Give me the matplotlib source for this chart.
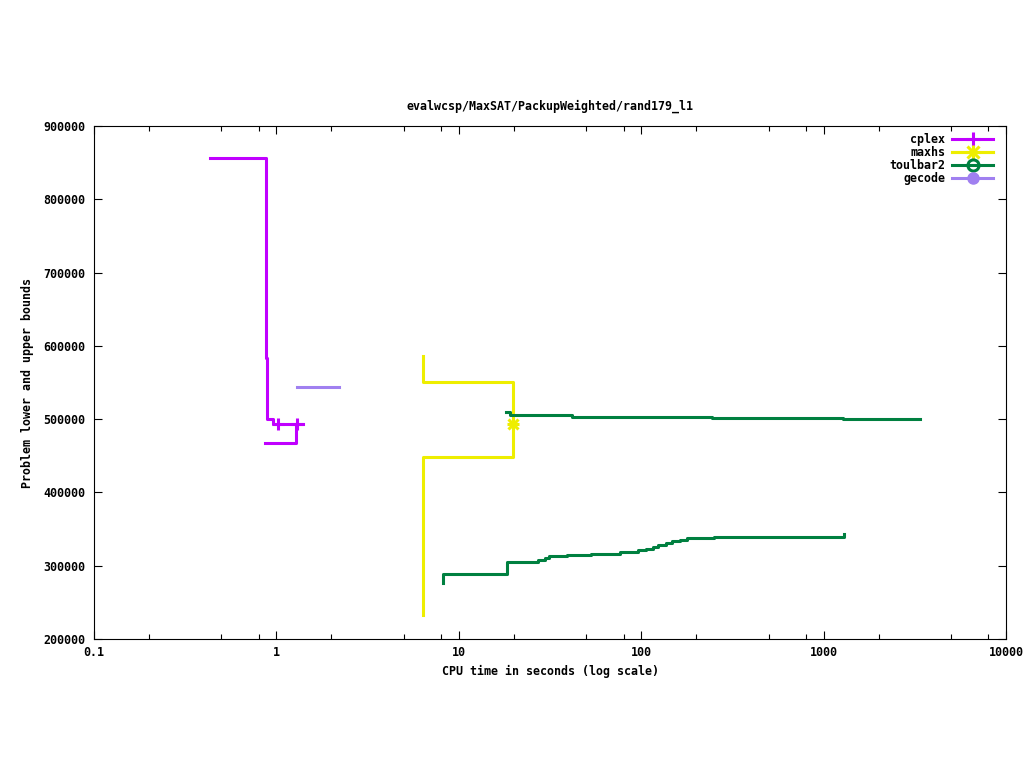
import matplotlib
matplotlib.use("Agg")
import matplotlib.pyplot as plt
from matplotlib.ticker import LogLocator, FixedLocator, NullFormatter, FuncFormatter
from matplotlib.lines import Line2D

# ---- data ----
cplex_ub_x = [0.433, 0.880, 0.891, 0.962, 1.404]
cplex_ub_y = [856000, 583400, 500200, 493000, 493000]
cplex_lb_x = [0.866, 1.281]
cplex_lb_y = [467000, 493000]
cplex_mark_x = [1.02, 1.29]
cplex_mark_y = [493000, 493000]

maxhs_ub_x = [6.38, 6.38, 19.9]
maxhs_ub_y = [586200, 551100, 493000]
maxhs_lb_x = [6.38, 6.38, 19.9]
maxhs_lb_y = [232800, 447900, 493000]
maxhs_mark_x = [19.9]
maxhs_mark_y = [493000]

toulbar2_ub_x = [18.15, 19.09, 41.9, 44.9, 243.5, 1273, 3377]
toulbar2_ub_y = [509300, 505700, 503300, 502300, 501200, 499800, 499800]
toulbar2_lb_x = [8.22, 8.22, 18.45, 27.1, 29.7, 31.3, 39.1, 53.0, 76.5, 95.7,
                 105.9, 115.6, 124.1, 136.8, 147.0, 163.2, 178.9, 250.6, 1294]
toulbar2_lb_y = [276000, 288300, 304700, 307400, 310500, 313300, 314600, 316000,
                 318700, 321500, 322800, 325500, 327900, 330600, 333700, 335500,
                 338200, 339600, 343700]

gecode_ub_x = [1.30, 2.20]
gecode_ub_y = [544500, 544500]

x_ticks = [0.1, 1, 10, 100, 1000, 10000]
x_tick_labels = ["0.1", "1", "10", "100", "1000", "10000"]
y_ticks = [200000, 300000, 400000, 500000, 600000, 700000, 800000, 900000]

title = "evalwcsp/MaxSAT/PackupWeighted/rand179_l1"
xlabel = "CPU time in seconds (log scale)"
ylabel = "Problem lower and upper bounds"

# ---- style ----
C_CPLEX = "#c000ff"
C_MAXHS = "#eeee00"
C_TB2 = "#008040"
C_GECODE = "#a080f0"
LW = 2.2
FS = 8.4
FONT = dict(family="DejaVu Sans Mono", weight="bold", size=FS)

plt.rcParams["font.family"] = "DejaVu Sans Mono"
plt.rcParams["font.weight"] = "bold"
plt.rcParams["font.size"] = FS

fig = plt.figure(figsize=(10.24, 7.68), dpi=100)
ax = fig.add_axes([94 / 1024, 1 - 639 / 768, 912 / 1024, 513 / 768])

ax.plot(cplex_ub_x, cplex_ub_y, color=C_CPLEX, lw=LW, drawstyle="steps-post")
ax.plot(cplex_lb_x, cplex_lb_y, color=C_CPLEX, lw=LW, drawstyle="steps-post")
ax.plot(cplex_mark_x, cplex_mark_y, ls="none", marker="+", ms=9, mew=2.2, color=C_CPLEX)

ax.plot(maxhs_ub_x, maxhs_ub_y, color=C_MAXHS, lw=LW, drawstyle="steps-post")
ax.plot(maxhs_lb_x, maxhs_lb_y, color=C_MAXHS, lw=LW, drawstyle="steps-post")
ax.plot(maxhs_mark_x, maxhs_mark_y, ls="none", marker="+", ms=9, mew=2.2, color=C_MAXHS)
ax.plot(maxhs_mark_x, maxhs_mark_y, ls="none", marker="x", ms=7, mew=2.2, color=C_MAXHS)

ax.plot(toulbar2_ub_x, toulbar2_ub_y, color=C_TB2, lw=LW, drawstyle="steps-post")
ax.plot(toulbar2_lb_x, toulbar2_lb_y, color=C_TB2, lw=LW, drawstyle="steps-post")

ax.plot(gecode_ub_x, gecode_ub_y, color=C_GECODE, lw=LW, drawstyle="steps-post")

ax.set_xscale("log")
ax.set_xlim(0.1, 10000)
ax.set_ylim(200000, 900000)
ax.xaxis.set_major_locator(FixedLocator(x_ticks))
ax.xaxis.set_major_formatter(FuncFormatter(lambda v, p: x_tick_labels[x_ticks.index(min(x_ticks, key=lambda t: abs(t - v)))]))
ax.xaxis.set_minor_locator(LogLocator(base=10, subs=[2, 5, 8]))
ax.xaxis.set_minor_formatter(NullFormatter())
ax.yaxis.set_major_locator(FixedLocator(y_ticks))
ax.yaxis.set_major_formatter(FuncFormatter(lambda v, p: "%d" % v))

ax.tick_params(which="both", direction="in", top=True, right=True, width=0.8, labelsize=FS)
ax.tick_params(which="major", length=6, pad=5)
ax.tick_params(which="minor", length=3.5)
ax.tick_params(axis="y", pad=6)
for s in ax.spines.values():
    s.set_linewidth(0.8)

ax.set_title(title, fontdict=FONT, pad=12)
ax.set_xlabel(xlabel, fontdict=FONT, labelpad=4)
ax.set_ylabel(ylabel, fontdict=FONT, labelpad=7)

# legend
h_cplex = Line2D([], [], color=C_CPLEX, lw=LW, marker="+", ms=10, mew=2.2)
h_maxhs = (Line2D([], [], color=C_MAXHS, lw=LW, marker="+", ms=10, mew=2.2),
           Line2D([], [], color=C_MAXHS, lw=LW, marker="x", ms=8, mew=2.2))
h_tb2 = Line2D([], [], color=C_TB2, lw=LW, marker="o", ms=8, mew=2.2, mfc="none")
h_gec = Line2D([], [], color=C_GECODE, lw=LW, marker="o", ms=8, mew=1.0)
ax.legend([h_cplex, h_maxhs, h_tb2, h_gec], ["cplex", "maxhs", "toulbar2", "gecode"],
          loc="upper right", bbox_to_anchor=((993 - 94) / 912, (639 - 133) / 513),
          frameon=False, markerfirst=False, borderpad=0, borderaxespad=0,
          handlelength=3.5, handletextpad=0.6, labelspacing=0.0,
          prop=dict(family="DejaVu Sans Mono", weight="bold", size=FS))

fig.savefig("out.png", dpi=100)
